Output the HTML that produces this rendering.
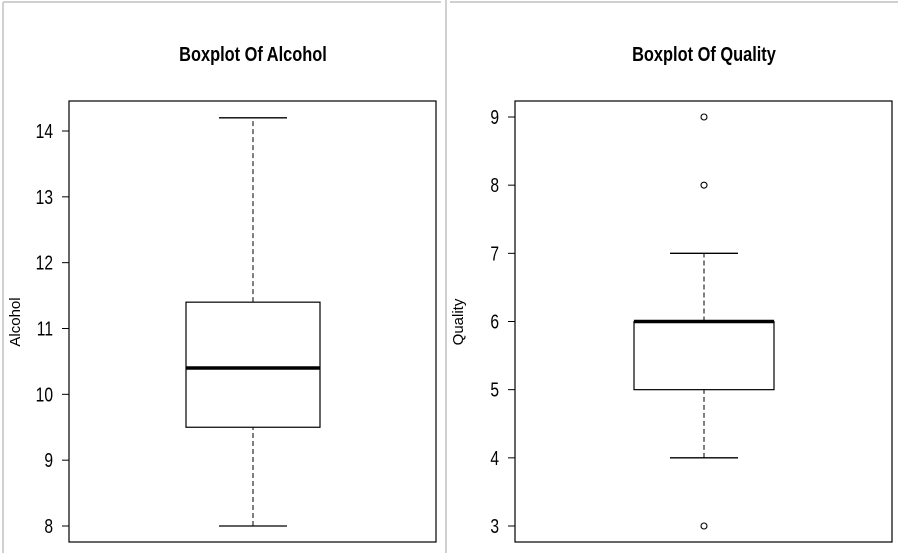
<!DOCTYPE html>
<html><head><meta charset="utf-8"><style>
body{margin:0;background:#fff;width:898px;height:553px;overflow:hidden}
svg text{font-family:"Liberation Sans",sans-serif}
</style></head><body>
<svg width="898" height="553">
<line x1="3" y1="2" x2="441" y2="2" stroke="#d0d0d0" stroke-width="2"/>
<line x1="3" y1="2" x2="3" y2="553" stroke="#d0d0d0" stroke-width="2"/>
<line x1="446" y1="0" x2="446" y2="553" stroke="#d0d0d0" stroke-width="2"/>
<line x1="450" y1="2" x2="898" y2="2" stroke="#d0d0d0" stroke-width="2"/>
<g id="left"></g>
<g id="right"></g>
</svg>
<script>
const alcoholStats=[8.0,9.5,10.4,11.4,14.2];
const alcoholOutliers=[];
const alcoholTicks=[8,9,10,11,12,13,14];
const qualityStats=[4,5,6,6,7];
const qualityOutliers=[3,8,9];
const qualityTicks=[3,4,5,6,7,8,9];
const NS="http://www.w3.org/2000/svg";
function mk(p,t,a){const e=document.createElementNS(NS,t);for(const k in a)e.setAttribute(k,a[k]);p.appendChild(e);return e;}
function draw(g,o){
 const y=v=>o.y0+(v-o.v0)*(o.y1-o.y0)/(o.v1-o.v0);
 const t=mk(g,'text',{x:o.cx,y:61,'text-anchor':'middle','font-size':20,'font-weight':'bold',transform:`translate(${o.cx},0) scale(0.82,1) translate(${-o.cx},0)`});t.textContent=o.title;
 
 
 const f=mk(g,'rect',{x:o.px0,y:101,width:o.px1-o.px0,height:441,fill:'none',stroke:'#000','stroke-width':1.2});
 
 
 o.ticks.forEach(v=>{
  const l=mk(g,'line',{x1:o.px0-7,x2:o.px0,y1:y(v),y2:y(v),stroke:'#000'});
  
  
  const tx=mk(g,'text',{x:o.px0-16,y:y(v)+7,'text-anchor':'end','font-size':20,transform:`translate(${o.px0-16},0) scale(0.78,1) translate(${-(o.px0-16)},0)`});tx.textContent=v;
  
  
 });
 const at=mk(g,'text',{x:0,y:0,'text-anchor':'middle','font-size':15,transform:`translate(${o.ax},322) rotate(-90)`});at.textContent=o.axis;
 
 
 const s=o.stats,cx=o.cx;
 const w1=mk(g,'line',{x1:cx,x2:cx,y1:y(s[0]),y2:y(s[1]),stroke:'#000','stroke-dasharray':'5,3'});
 
 
 const w2=mk(g,'line',{x1:cx,x2:cx,y1:y(s[3]),y2:y(s[4]),stroke:'#000','stroke-dasharray':'5,3'});
 
 
 [s[0],s[4]].forEach(v=>{const c=mk(g,'line',{x1:cx-o.cap,x2:cx+o.cap,y1:y(v),y2:y(v),stroke:'#000','stroke-width':1.3});
  
  });
 const b=mk(g,'rect',{x:cx-o.bw,y:y(s[3]),width:2*o.bw,height:y(s[1])-y(s[3]),fill:'#fff',stroke:'#000','stroke-width':1.2});
 
 
 const m=mk(g,'line',{x1:cx-o.bw,x2:cx+o.bw,y1:y(s[2]),y2:y(s[2]),stroke:'#000','stroke-width':3.5});
 
 
 o.out.forEach(v=>{const p=mk(g,'circle',{cx:cx,cy:y(v),r:3,fill:'none',stroke:'#000','stroke-width':1.1});
  
  });
}
draw(document.getElementById('left'),{title:'Boxplot Of Alcohol',axis:'Alcohol',cx:253,px0:69,px1:436,y0:526,y1:131,v0:8,v1:14,ticks:alcoholTicks,stats:alcoholStats,out:alcoholOutliers,ax:20,cap:34,bw:67});
draw(document.getElementById('right'),{title:'Boxplot Of Quality',axis:'Quality',cx:704,px0:515,px1:892,y0:526,y1:117,v0:3,v1:9,ticks:qualityTicks,stats:qualityStats,out:qualityOutliers,ax:463,cap:34,bw:70});
</script>
</body></html>
